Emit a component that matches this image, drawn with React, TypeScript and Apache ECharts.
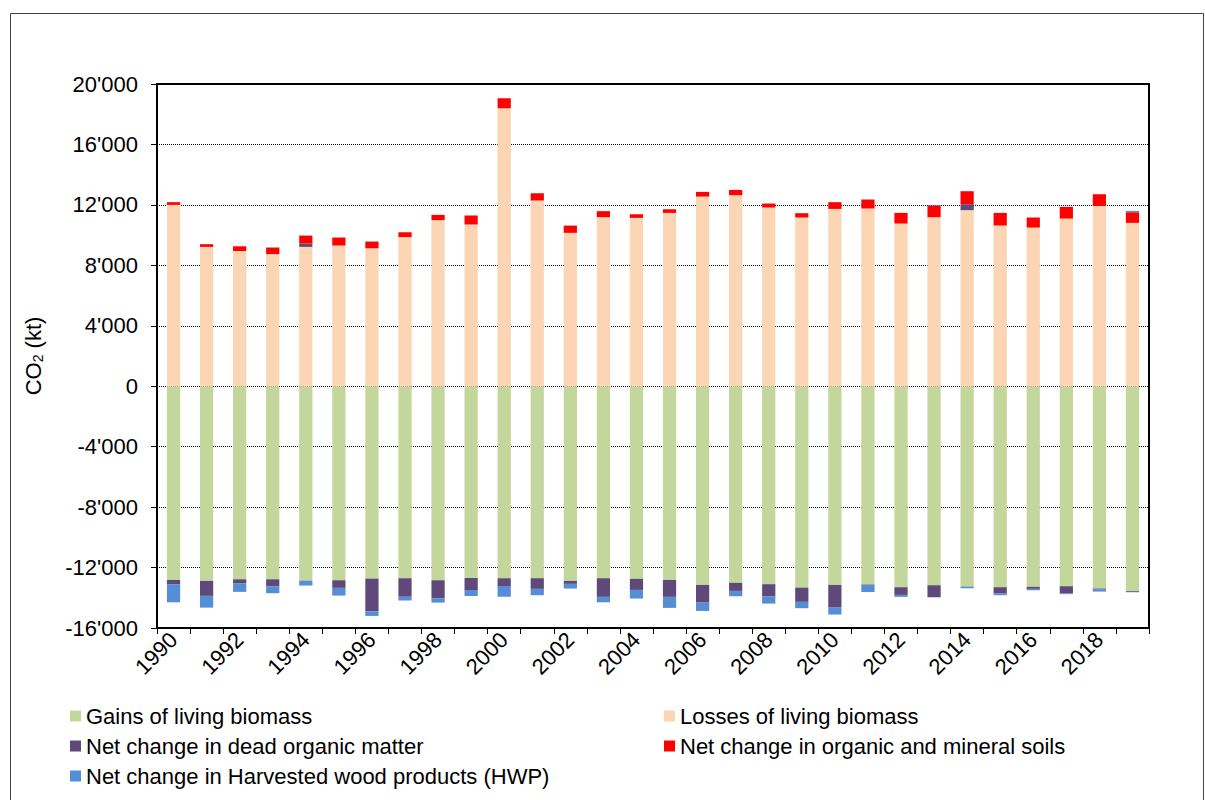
import React, { useEffect, useRef } from "react";
import * as echarts from "echarts";

const years = [
  "1990", "1991", "1992", "1993", "1994", "1995", "1996", "1997", "1998", "1999",
  "2000", "2001", "2002", "2003", "2004", "2005", "2006", "2007", "2008", "2009",
  "2010", "2011", "2012", "2013", "2014", "2015", "2016", "2017", "2018", "2019",
];

const gains = [
  -12815, -12880, -12775, -12775, -12860, -12840, -12730, -12705, -12840, -12685,
  -12705, -12705, -12880, -12705, -12750, -12815, -13145, -13015, -13100, -13325,
  -13145, -13125, -13300, -13170, -13255, -13300, -13280, -13235, -13390, -13565,
];

const losses = [
  12000, 9220, 8950, 8740, 9220, 9310, 9130, 9880, 10990, 10700,
  18400, 12290, 10150, 11185, 11140, 11470, 12550, 12640, 11825, 11165,
  11735, 11760, 10765, 11185, 11650, 10635, 10500, 11095, 11930, 10810,
];

const deadOrganic = [
  -310, -995, -285, -460, 220, -505, -2160, -1235, -1210, -795,
  -510, -705, -200, -1235, -730, -1125, -1175, -530, -820, -945,
  -1505, -30, -510, -795, 395, -420, -130, -485, -70, -65,
];

const soils = [
  180, 180, 310, 440, 530, 530, 445, 310, 350, 600,
  660, 480, 480, 400, 240, 240, 310, 350, 265, 285,
  445, 595, 705, 775, 860, 835, 665, 775, 775, 705,
];

const hwp = [
  -1175, -775, -550, -465, -330, -510, -310, -245, -270, -395,
  -725, -420, -310, -360, -570, -730, -550, -355, -465, -420,
  -460, -465, -130, 40, -115, -110, -90, -40, -130, 90,
];

const seriesNames = [
  "Gains of living biomass",
  "Losses of living biomass",
  "Net change in dead organic matter",
  "Net change in organic and mineral soils",
  "Net change in Harvested wood products (HWP)",
];

const colors = ["#C3D69B", "#FCD5B5", "#5F497A", "#FF0000", "#558ED5"];

const FONT = "Liberation Sans, Arial, sans-serif";

function fmt(v: number): string {
  const neg = v < 0;
  const s = String(Math.abs(v)).replace(/\B(?=(\d{3})+(?!\d))/g, "'");
  return (neg ? "-" : "") + s;
}

export default function App() {
  const ref = useRef<HTMLDivElement>(null);

  useEffect(() => {
    document.body.style.margin = "0";
    const chart = echarts.init(ref.current!, null, { renderer: "svg" });
    const dataSets = [gains, losses, deadOrganic, soils, hwp];
    const legendText = { fontSize: 22, color: "#000", fontFamily: FONT, lineHeight: 20 };
    chart.setOption({
      animation: false,
      backgroundColor: "#fff",
      textStyle: { fontFamily: FONT },
      graphic: [
        {
          type: "rect",
          shape: { x: 10.5, y: 13.5, width: 1193, height: 800 },
          style: { fill: "none", stroke: "#404040", lineWidth: 1 },
          silent: true,
        },
      ],
      legend: [
        {
          orient: "vertical",
          left: 70,
          top: 705,
          padding: 0,
          itemWidth: 11,
          itemHeight: 11,
          itemGap: 8,
          icon: "rect",
          selectedMode: false,
          textStyle: legendText,
          data: [seriesNames[0], seriesNames[2], seriesNames[4]],
        },
        {
          orient: "vertical",
          left: 664,
          top: 705,
          padding: 0,
          itemWidth: 11,
          itemHeight: 11,
          itemGap: 8,
          icon: "rect",
          selectedMode: false,
          textStyle: legendText,
          data: [seriesNames[1], seriesNames[3]],
        },
      ],
      grid: {
        left: 157,
        right: 56,
        top: 84,
        bottom: 172,
        show: true,
        borderColor: "#000",
        borderWidth: 2,
        containLabel: false,
      },
      xAxis: {
        type: "category",
        data: years,
        boundaryGap: true,
        position: "bottom",
        axisLine: { onZero: false, lineStyle: { color: "#000", width: 2 } },
        axisTick: { show: true, interval: 0, length: 6, lineStyle: { color: "#000", width: 1 } },
        axisLabel: {
          interval: 1,
          rotate: 45,
          fontSize: 22,
          color: "#000",
          fontFamily: FONT,
          margin: 8,
        },
        splitLine: { show: false },
      },
      yAxis: {
        type: "value",
        min: -16000,
        max: 20000,
        interval: 4000,
        name: "CO{sub|2} (kt)",
        nameLocation: "middle",
        nameRotate: 90,
        nameGap: 112,
        nameTextStyle: {
          fontSize: 22,
          color: "#000",
          fontFamily: FONT,
          rich: {
            sub: { fontSize: 14, verticalAlign: "bottom", padding: [10, 0, 0, 0], color: "#000", fontFamily: FONT },
          },
        },
        axisLine: { show: true, lineStyle: { color: "#000", width: 2 } },
        axisTick: { show: true, length: 6, lineStyle: { color: "#000", width: 1 } },
        axisLabel: {
          formatter: (v: number) => fmt(v),
          fontSize: 22,
          color: "#000",
          fontFamily: FONT,
          margin: 19,
        },
        splitLine: { show: true, lineStyle: { color: "#000", type: "dotted", width: 1 } },
      },
      series: dataSets.map((d, i) => ({
        name: seriesNames[i],
        type: "bar",
        stack: "total",
        barWidth: "40%",
        itemStyle: { color: colors[i] },
        data: d,
      })),
    });
    return () => chart.dispose();
  }, []);

  return (
    <div
      ref={ref}
      style={{ position: "fixed", left: 0, top: 0, width: 1205, height: 800 }}
    />
  );
}
